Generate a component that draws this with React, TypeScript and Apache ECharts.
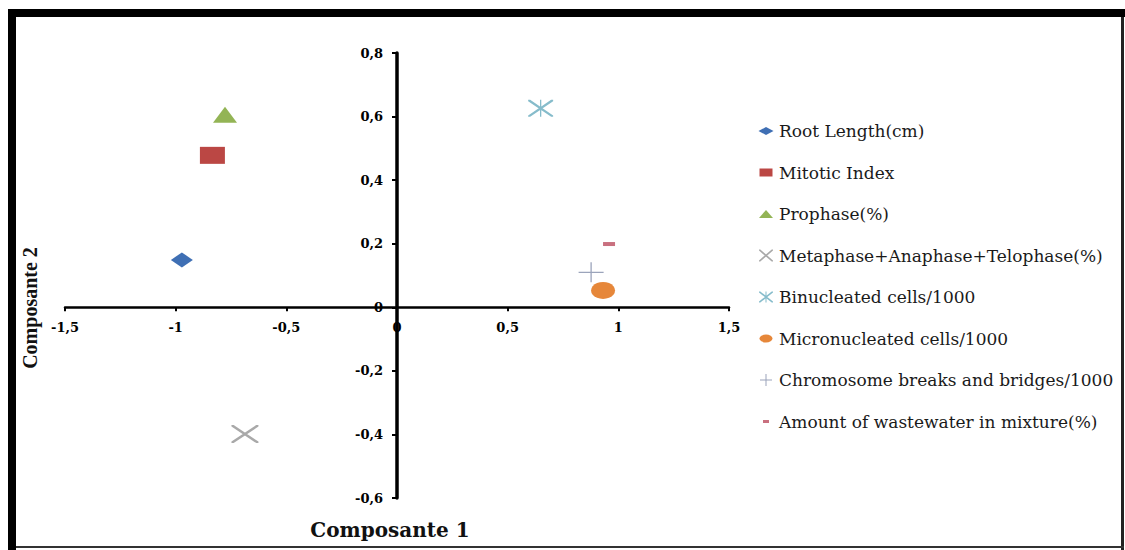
import React, { useEffect, useRef } from "react";
import * as echarts from "echarts";

// ---- data ----
const seriesNames = [
  "Root Length(cm)",
  "Mitotic Index",
  "Prophase(%)",
  "Metaphase+Anaphase+Telophase(%)",
  "Binucleated cells/1000",
  "Micronucleated cells/1000",
  "Chromosome breaks and bridges/1000",
  "Amount of wastewater in mixture(%)",
];
const seriesColors = ["#3f6fb4", "#bb4744", "#93b455", "#a9a9a9", "#86bccb", "#e6873a", "#9ba4bb", "#c9707f"];

const rootLength = [[-0.972, 0.149]];
const mitoticIndex = [[-0.834, 0.478]];
const prophase = [[-0.777, 0.606]];
const metaphase = [[-0.687, -0.399]];
const binucleated = [[0.649, 0.626]];
const micronucleated = [[0.931, 0.053]];
const chromosome = [[0.877, 0.11]];
const wastewater = [[0.958, 0.199]];

const xTickValues = [-1.5, -1, -0.5, 0, 0.5, 1, 1.5];
const xTickLabels = ["-1,5", "-1", "-0,5", "0", "0,5", "1", "1,5"];
const yTickValues = [-0.6, -0.4, -0.2, 0, 0.2, 0.4, 0.6, 0.8];
const yTickLabels = ["-0,6", "-0,4", "-0,2", "0", "0,2", "0,4", "0,6", "0,8"];

const xTitle = "Composante 1";
const yTitle = "Composante 2";

// ---- symbols ----
const X_SYM =
  "path://M0,0 L2.2,0 L27,16.5 L27,18 L24.8,18 L0,1.5 Z M27,0 L27,1.5 L2.2,18 L0,18 L0,16.5 L24.8,0 Z";
const AST_SYM =
  "path://M0,0 L2,0 L25,15.6 L25,17 L23,17 L0,1.4 Z M25,0 L25,1.4 L2,17 L0,17 L0,15.6 L23,0 Z M11.85,0 L13.15,0 L13.15,17 L11.85,17 Z";
const PLUS_SYM = "path://M0,9.35 L25,9.35 L25,10.65 L0,10.65 Z M11.85,0 L13.15,0 L13.15,20 L11.85,20 Z";

const C = "M0,0 M16,12 ";
const legendIcons = [
  "path://" + C + "M0.5,6 L8,2 L15.5,6 L8,10 Z",
  "path://" + C + "M1.5,2 L14.5,2 L14.5,10 L1.5,10 Z",
  "path://" + C + "M1,10 L8,2 L15,10 Z",
  "path://" + C + "M1,0 L2.3,0 L15,10.9 L15,12 L13.7,12 L1,1.1 Z M15,0 L15,1.1 L2.3,12 L1,12 L1,10.9 L13.7,0 Z",
  "path://" + C +
    "M1,0.5 L2.3,0.5 L15,10.5 L15,11.5 L13.7,11.5 L1,1.5 Z M15,0.5 L15,1.5 L2.3,11.5 L1,11.5 L1,10.5 L13.7,0.5 Z M7.5,0.5 L8.5,0.5 L8.5,11.5 L7.5,11.5 Z",
  "path://" + C + "M1.5,6 A6.5,4 0 1 1 14.5,6 A6.5,4 0 1 1 1.5,6 Z",
  "path://" + C + "M2,5.5 L14,5.5 L14,6.5 L2,6.5 Z M7.5,0 L8.5,0 L8.5,12 L7.5,12 Z",
  "path://" + C + "M5,4.5 L11,4.5 L11,7.5 L5,7.5 Z",
];

function labelFor(values: number[], labels: string[], v: number) {
  let best = 0;
  for (let i = 1; i < values.length; i++) {
    if (Math.abs(values[i] - v) < Math.abs(values[best] - v)) best = i;
  }
  return labels[best];
}

// layout
const GRID = { left: 65, right: 396, top: 53, bottom: 52 };
const W = 1125;
const H = 550;
const X_MIN = -1.5, X_MAX = 1.5, Y_MIN = -0.6, Y_MAX = 0.8;

export default function App() {
  const ref = useRef<HTMLDivElement>(null);
  useEffect(() => {
    document.body.style.margin = "0";
    const chart = echarts.init(ref.current!, null, { renderer: "svg" });
    const seriesData = [rootLength, mitoticIndex, prophase, metaphase, binucleated, micronucleated, chromosome, wastewater];
    const symbols: any[] = ["diamond", "rect", "triangle", X_SYM, AST_SYM, "circle", PLUS_SYM, "rect"];
    const sizes: any[] = [[22, 15], [25, 17], [24, 16], [27, 18], [25, 17], [24, 17], [25, 20], [12, 4]];
    const tickFont = { color: "#000", fontFamily: "DejaVu Serif", fontWeight: "bold", fontSize: 13 };

    const gw = W - GRID.left - GRID.right;
    const gh = H - GRID.top - GRID.bottom;
    // distance of the zero lines from the grid edges
    const yAxisOffset = -((0 - X_MIN) / (X_MAX - X_MIN)) * gw;
    const xAxisOffset = -((0 - Y_MIN) / (Y_MAX - Y_MIN)) * gh;

    chart.setOption({
      animation: false,
      backgroundColor: "#fff",
      grid: GRID,
      xAxis: {
        type: "value",
        min: X_MIN,
        max: X_MAX,
        interval: 0.5,
        position: "bottom",
        offset: xAxisOffset,
        axisLine: { onZero: false, lineStyle: { color: "#000", width: 2.5 } },
        axisTick: { show: true, length: 4, lineStyle: { color: "#000", width: 2 } },
        axisLabel: { ...tickFont, margin: 14, formatter: (v: number) => labelFor(xTickValues, xTickLabels, v) },
        splitLine: { show: false },
      },
      yAxis: {
        type: "value",
        min: Y_MIN,
        max: Y_MAX,
        interval: 0.2,
        position: "left",
        offset: yAxisOffset,
        axisLine: { onZero: false, lineStyle: { color: "#000", width: 3.5 } },
        axisTick: { show: true, length: 5, lineStyle: { color: "#000", width: 2 } },
        axisLabel: { ...tickFont, margin: 14, formatter: (v: number) => labelFor(yTickValues, yTickLabels, v) },
        splitLine: { show: false },
      },
      legend: {
        orient: "vertical",
        left: 758,
        top: 122.5,
        padding: 0,
        itemWidth: 16,
        itemHeight: 12,
        itemGap: 24.5,
        textStyle: { fontFamily: "DejaVu Serif", fontSize: 17, color: "#1a1a1a" },
        data: seriesNames.map((n, i) => ({ name: n, icon: legendIcons[i] })),
      },
      series: seriesNames.map((n, i) => ({
        type: "scatter",
        name: n,
        data: seriesData[i],
        symbol: symbols[i],
        symbolSize: sizes[i],
        itemStyle: { color: seriesColors[i], opacity: 1 },
      })),
      graphic: [
        { type: "rect", shape: { x: 8, y: 9, width: 1117, height: 8 }, style: { fill: "#000" }, silent: true },
        { type: "rect", shape: { x: 8, y: 9, width: 8, height: 541 }, style: { fill: "#000" }, silent: true },
        { type: "rect", shape: { x: 1121, y: 17, width: 3, height: 533 }, style: { fill: "#222" }, silent: true },
        { type: "rect", shape: { x: 16, y: 546, width: 1108, height: 2 }, style: { fill: "#333" }, silent: true },
        {
          type: "text",
          x: 390,
          y: 530,
          style: { text: xTitle, font: 'bold 20px "DejaVu Serif"', fill: "#111", align: "center", verticalAlign: "middle" },
        },
        {
          type: "text",
          x: 30,
          y: 308,
          rotation: Math.PI / 2,
          style: { text: yTitle, font: 'bold 20px "Liberation Serif"', fill: "#111", align: "center", verticalAlign: "middle" },
        },
      ],
    });
    return () => chart.dispose();
  }, []);
  return <div ref={ref} style={{ width: W, height: H }} />;
}
